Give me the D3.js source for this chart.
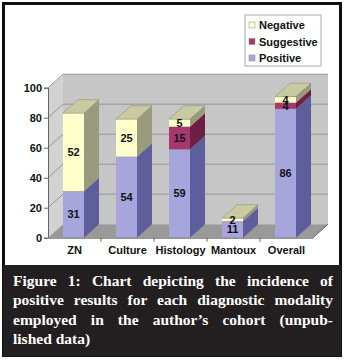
<!DOCTYPE html>
<html>
<head>
<meta charset="utf-8">
<script src="https://cdn.jsdelivr.net/npm/d3@7"></script>
<style>
  body { margin: 0; background: #fff; }
  svg text { font-family: "Liberation Sans", Arial, sans-serif; font-weight: bold; }
  #caption {
    position: absolute; left: 3px; top: 265px; width: 338px; height: 91px;
    background: #231f20; color: #fff; box-sizing: border-box; padding: 6px 8px 0 10px;
    font-family: "Liberation Serif", "Times New Roman", serif; font-weight: bold;
    font-size: 15.5px; line-height: 19.3px;
  }
  #caption div { white-space: nowrap; text-align: justify; text-align-last: justify; }
  #caption div.last { text-align-last: left; }
</style>
</head>
<body>
<div id="container"></div>
<div id="caption">
  <div>Figure 1: Chart depicting the incidence of</div>
  <div>positive results for each diagnostic modality</div>
  <div>employed in the author’s cohort (unpub-</div>
  <div class="last">lished data)</div>
</div>
<script>
/* DATA */
const categories = ["ZN", "Culture", "Histology", "Mantoux", "Overall"];
const positive   = [31, 54, 59, 11, 86];
const suggestive = [0, 0, 15, 0, 4];
const negative   = [52, 25, 5, 2, 4];
const yTicks = [0, 20, 40, 60, 80, 100];

const keys = ["Positive", "Suggestive", "Negative"];
const rows = categories.map((c, i) => ({
  category: c, Positive: positive[i], Suggestive: suggestive[i], Negative: negative[i]
}));

/* CONSTANTS */
const width = 344, height = 360;
const plotLeft = 47, plotRight = 312, plotTop = 87.7, plotBottom = 237.7;
const dx = 15, dy = -13.5; // depth offset

const colors = {
  Positive:   { front: "#a6a6dc", side: "#5e5e9c", top: "#8a8ac4" },
  Suggestive: { front: "#a6386e", side: "#6b1f42", top: "#8a2c58" },
  Negative:   { front: "#ffffcc", side: "#9a9a7c", top: "#c9c9a2" }
};

/* SCALES */
const x = d3.scaleBand().domain(categories).range([plotLeft, plotRight]).padding(0);
const y = d3.scaleLinear().domain([0, 100]).range([plotBottom, plotTop]);
const barW = 21;

const svg = d3.select("#container").append("svg")
  .attr("width", width).attr("height", height)
  .style("position", "absolute").style("left", 0).style("top", 0);

// frame
svg.append("rect")
  .attr("x", 3.5).attr("y", 3.5).attr("width", 337).attr("height", 352)
  .attr("fill", "#fff").attr("stroke", "#111").attr("stroke-width", 3);

/* WALLS */
const x0 = plotLeft + 1, x1 = plotRight + 1;
const pts = a => a.map(p => p.join(",")).join(" ");
svg.append("polygon") // left wall
  .attr("points", pts([[x0, y(0)], [x0, y(100)], [x0 + dx, y(100) + dy], [x0 + dx, y(0) + dy]]))
  .attr("fill", "#d2d2d2");
svg.append("rect") // back wall
  .attr("x", x0 + dx).attr("y", y(100) + dy)
  .attr("width", x1 - x0).attr("height", y(0) - y(100))
  .attr("fill", "#c6c6c6");
svg.append("polygon") // floor
  .attr("points", pts([[x0, y(0)], [x1, y(0)], [x1 + dx, y(0) + dy], [x0 + dx, y(0) + dy]]))
  .attr("fill", "#999999");

// gridlines
const grid = svg.append("g").attr("stroke", "#8c8c8c").attr("stroke-width", 0.8).attr("fill", "none");
yTicks.filter(v => v > 0).forEach(v => {
  grid.append("polyline")
    .attr("points", pts([[x0, y(v)], [x0 + dx, y(v) + dy], [x1 + dx, y(v) + dy]]));
});

/* BARS */
const series = d3.stack().keys(keys)(rows);
const barG = svg.append("g");
rows.forEach((r, i) => {
  series.forEach(s => {
    const d = s[i];
    if (d[1] - d[0] <= 0) return;
    const c = colors[s.key];
    const bx = x(r.category) + (x.bandwidth() - barW) / 2;
    const yb = y(d[0]), yt = y(d[1]);
    barG.append("rect")
      .attr("x", bx).attr("y", yt).attr("width", barW).attr("height", yb - yt)
      .attr("fill", c.front);
    barG.append("polygon")
      .attr("points", pts([[bx + barW, yb], [bx + barW, yt], [bx + barW + dx, yt + dy], [bx + barW + dx, yb + dy]]))
      .attr("fill", c.side);
    barG.append("polygon")
      .attr("points", pts([[bx, yt], [bx + barW, yt], [bx + barW + dx, yt + dy], [bx + dx, yt + dy]]))
      .attr("fill", c.top).attr("stroke", "#777760").attr("stroke-width", 0.4);
  });
});

// value labels
rows.forEach((r, i) => {
  series.forEach(s => {
    const d = s[i];
    if (d[1] - d[0] <= 0) return;
    svg.append("text")
      .attr("x", x(r.category) + x.bandwidth() / 2)
      .attr("y", y((d[0] + d[1]) / 2) + 4)
      .attr("text-anchor", "middle").attr("font-size", 11).attr("fill", "#111")
      .text(d.data[s.key]);
  });
});

/* AXES */
const yAxis = d3.axisLeft(y).tickValues(yTicks).tickSize(4).tickPadding(2);
svg.append("g")
  .attr("transform", `translate(${x0},0)`)
  .call(yAxis)
  .call(g => g.select(".domain").attr("stroke", "#666"))
  .call(g => g.selectAll(".tick line").attr("stroke", "#666"))
  .call(g => g.selectAll("text").attr("font-size", 11).attr("fill", "#111")
    .style("font-family", "'Liberation Sans', Arial, sans-serif").style("font-weight", "bold"));

const xAxis = d3.axisBottom(x).tickSize(0).tickPadding(9);
svg.append("g")
  .attr("transform", `translate(1,${y(0)})`)
  .call(xAxis)
  .call(g => g.select(".domain").attr("stroke", "#666"))
  .call(g => g.selectAll("text").attr("font-size", 11).attr("fill", "#111")
    .style("font-family", "'Liberation Sans', Arial, sans-serif").style("font-weight", "bold"));

// band boundary ticks and floor right edge
const tickG = svg.append("g").attr("stroke", "#666");
categories.slice(1).forEach(c => {
  tickG.append("line").attr("x1", x(c) + 1).attr("x2", x(c) + 1)
    .attr("y1", y(0)).attr("y2", y(0) + 4);
});
tickG.append("line").attr("x1", x1).attr("y1", y(0)).attr("x2", x1 + dx).attr("y2", y(0) + dy);

/* LEGEND */
const legend = svg.append("g").attr("transform", "translate(245,15)");
legend.append("rect").attr("width", 76).attr("height", 51)
  .attr("fill", "#fff").attr("stroke", "#aaa");
["Negative", "Suggestive", "Positive"].forEach((k, i) => {
  const cy = 10 + i * 16.5;
  legend.append("rect").attr("x", 4).attr("y", cy - 3).attr("width", 6).attr("height", 6)
    .attr("fill", colors[k].front).attr("stroke", "#888").attr("stroke-width", 0.5);
  legend.append("text").attr("x", 14).attr("y", cy + 4)
    .attr("font-size", 11).attr("fill", "#111").text(k);
});
</script>
</body>
</html>
